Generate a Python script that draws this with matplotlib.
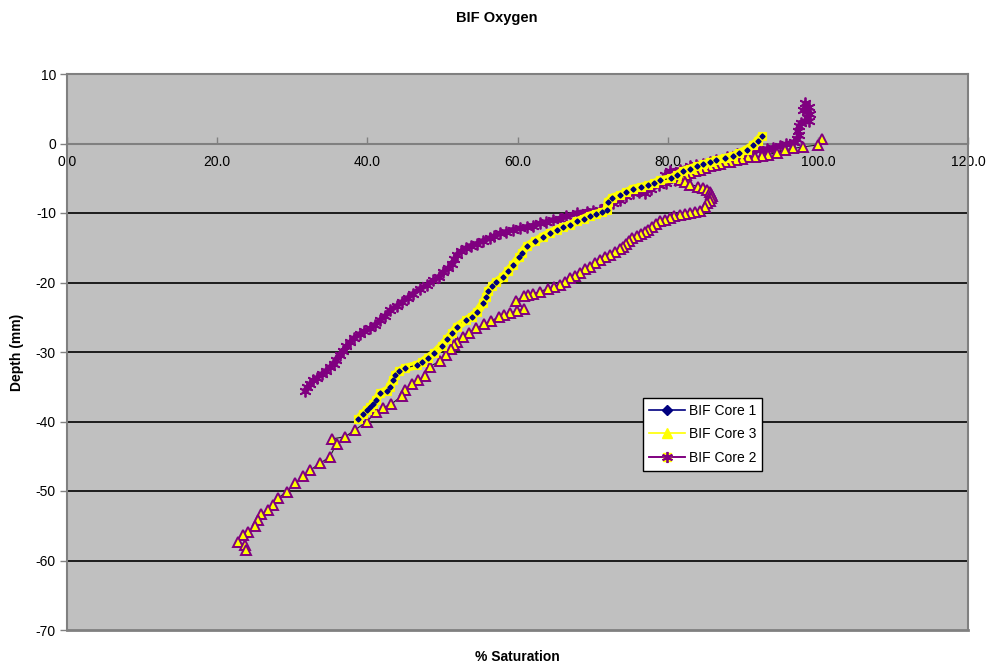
import matplotlib
matplotlib.use("Agg")
import matplotlib.pyplot as plt
from matplotlib.lines import Line2D
from matplotlib.legend_handler import HandlerTuple

plt.rcParams['font.family'] = ['Liberation Sans', 'DejaVu Sans']

# ---------------- data ----------------
core1_sat = [92.5, 92.0, 91.4, 90.5, 89.5, 88.7, 87.6, 86.5, 85.6, 84.7, 83.9, 83.0, 82.1, 81.3,
             80.5, 79.0, 78.2, 77.4, 76.4, 75.4, 74.5, 73.7, 72.6, 72.0, 71.9, 71.2, 70.5, 69.6,
             68.8, 67.9, 67.0, 66.1, 65.2, 64.3, 63.4, 62.3, 61.2, 60.6, 60.2, 59.4, 58.7, 58.1,
             57.2, 56.6, 56.1, 55.8, 55.4, 54.6, 53.9, 53.2, 51.9, 51.3, 50.6, 49.9, 48.9, 48.1,
             47.3, 46.6, 45.0, 44.2, 43.7, 43.4, 43.0, 42.6, 41.7, 41.2, 40.7, 40.4, 39.9, 39.4, 38.8]
core1_depth = [1.1, 0.4, -0.2, -0.9, -1.4, -1.8, -2.1, -2.4, -2.7, -3.0, -3.3, -3.6, -3.9, -4.5,
               -5.0, -5.3, -5.7, -6.0, -6.3, -6.5, -7.0, -7.4, -7.8, -8.4, -9.6, -9.9, -10.1, -10.4,
               -10.8, -11.2, -11.7, -12.0, -12.4, -12.9, -13.4, -14.1, -14.8, -15.7, -16.4, -17.5, -18.4, -19.2,
               -19.9, -20.5, -21.2, -22.1, -23.0, -24.3, -24.9, -25.4, -26.4, -27.3, -28.2, -29.1, -30.2, -30.8,
               -31.4, -31.9, -32.3, -32.8, -33.3, -34.0, -35.0, -35.6, -35.9, -36.9, -37.5, -37.9, -38.4, -38.9, -39.7]

core3_sat = [100.5, 100.0, 98.0, 96.7, 95.6, 94.5, 93.4, 92.5, 91.6, 90.7, 89.9, 89.1, 88.3, 87.6,
             87.0, 86.3, 85.6, 85.0, 84.3, 83.6, 83.0, 82.4, 81.9, 81.6, 82.3, 83.0, 84.1, 84.7,
             85.2, 85.6, 85.8, 85.9, 85.8, 85.6, 85.3, 85.0, 84.3, 83.6, 83.0, 82.3, 81.6, 80.9,
             80.3, 79.6, 79.0, 78.4, 77.9, 77.4, 77.0, 76.4, 75.9, 75.2, 74.8, 74.5, 74.1, 73.7,
             73.0, 72.3, 71.6, 71.0, 70.3, 69.7, 69.0, 68.3, 67.6, 67.0, 66.3, 65.7, 64.8, 64.0,
             63.0, 62.1, 61.4, 60.8, 59.8, 60.8, 59.9, 59.0, 58.2, 57.5, 56.5, 55.5, 54.5, 53.5,
             52.7, 52.0, 51.6, 51.2, 50.5, 49.7, 48.3, 47.7, 46.8, 45.9, 45.0, 44.6, 43.2, 42.1,
             41.2, 39.9, 38.4, 37.0, 35.3, 35.9, 35.0, 33.7, 32.4, 31.4, 30.4, 29.3, 28.1, 27.5,
             26.8, 25.9, 25.4, 25.0, 24.1, 23.5, 22.8, 23.7, 23.9]
core3_depth = [0.7, -0.2, -0.5, -0.7, -0.9, -1.3, -1.6, -1.8, -1.9, -2.0, -2.2, -2.4, -2.6, -2.7,
               -2.9, -3.1, -3.3, -3.5, -3.8, -4.0, -4.3, -4.5, -4.8, -5.3, -5.6, -5.9, -6.2, -6.4,
               -6.7, -7.0, -7.3, -7.6, -7.9, -8.3, -8.6, -9.2, -9.7, -9.9, -10.0, -10.2, -10.3, -10.5,
               -10.7, -11.0, -11.2, -11.6, -12.0, -12.4, -12.7, -13.0, -13.3, -13.6, -14.1, -14.5, -14.9, -15.2,
               -15.6, -16.0, -16.4, -16.8, -17.2, -17.7, -18.1, -18.6, -19.0, -19.4, -19.9, -20.3, -20.6, -20.9,
               -21.3, -21.6, -21.8, -22.0, -22.6, -23.8, -24.1, -24.4, -24.7, -25.0, -25.5, -26.0, -26.6, -27.2,
               -27.8, -28.5, -29.0, -29.5, -30.5, -31.3, -32.1, -33.4, -34.0, -34.6, -35.5, -36.3, -37.5, -38.0,
               -38.7, -40.0, -41.2, -42.2, -42.5, -43.2, -45.1, -46.0, -47.0, -47.9, -48.9, -50.1, -51.0, -52.0,
               -52.7, -53.3, -54.2, -55.1, -55.9, -56.4, -57.3, -57.8, -58.5]

core2_sat = [98.3, 98.8, 98.0, 99.0, 98.5, 98.8, 97.8, 97.5, 97.3, 97.5, 97.2, 96.8, 95.8, 95.0,
             94.0, 93.2, 92.3, 91.0, 90.1, 89.2, 87.9, 86.5, 85.6, 84.7, 83.8, 83.0, 81.6, 80.3,
             79.6, 80.2, 81.0, 79.8, 78.8, 77.8, 77.0, 76.2, 75.4, 74.5, 73.7, 72.7, 71.8, 71.0,
             70.1, 69.2, 67.9, 66.5, 65.6, 64.7, 63.8, 63.0, 62.1, 61.2, 60.3, 59.4, 58.5, 57.7,
             56.9, 56.3, 55.4, 54.6, 53.8, 53.2, 52.5, 51.9, 51.6, 51.3, 50.8, 50.1, 49.5, 48.8,
             47.9, 47.0, 46.1, 45.4, 44.6, 43.9, 43.0, 42.4, 41.7, 41.0, 40.4, 39.6, 39.0, 38.2,
             37.7, 37.2, 36.8, 36.3, 35.8, 35.5, 35.0, 34.5, 33.9, 33.3, 32.8, 32.4, 32.0, 31.7]
core2_depth = [5.8, 5.3, 4.8, 4.3, 3.8, 3.2, 3.0, 2.5, 1.8, 1.2, 0.6, 0.2, -0.1, -0.3,
               -0.6, -0.8, -0.9, -1.2, -1.3, -1.5, -1.9, -2.4, -2.6, -2.9, -3.1, -3.3, -3.8, -4.0,
               -4.6, -5.0, -5.2, -5.7, -6.0, -6.5, -7.1, -7.0, -7.1, -7.6, -8.1, -8.6, -9.1, -9.6,
               -9.7, -9.8, -10.0, -10.5, -10.8, -11.0, -11.3, -11.5, -11.8, -12.0, -12.2, -12.4, -12.7, -12.9,
               -13.3, -13.6, -14.0, -14.4, -14.7, -15.0, -15.5, -16.0, -16.6, -17.3, -17.9, -18.5, -19.2, -19.7,
               -20.4, -20.9, -21.6, -22.2, -22.8, -23.4, -24.0, -24.8, -25.4, -26.1, -26.6, -27.0, -27.4, -28.0,
               -28.6, -29.2, -29.8, -30.4, -31.1, -31.7, -32.2, -32.7, -33.2, -33.7, -34.1, -34.6, -35.1, -35.6]

x_ticks = [0, 20, 40, 60, 80, 100, 120]
x_tick_labels = ["0.0", "20.0", "40.0", "60.0", "80.0", "100.0", "120.0"]
y_ticks = [10, 0, -10, -20, -30, -40, -50, -60, -70]
series_names = ["BIF Core 1", "BIF Core 3", "BIF Core 2"]

# ---------------- figure ----------------
NAVY = '#000080'
YELLOW = '#FFFF00'
PURPLE = '#800080'
GRAY = '#808080'

fig = plt.figure(figsize=(9.94, 6.71), dpi=100)
ax = fig.add_axes([67/994, 1 - 630/671, (968-67)/994, (630-74)/671])
ax.set_facecolor('#C0C0C0')
ax.set_xlim(0, 120)
ax.set_ylim(-70, 10)

for gy in [-10, -20, -30, -40, -50, -60]:
    ax.axhline(gy, color='black', lw=1.2, zorder=1)
ax.axhline(-70, color=GRAY, lw=2, zorder=1, clip_on=False)

# Core 2 (purple asterisks, dense band)
ax.plot(core2_sat, core2_depth, color=PURPLE, lw=4, solid_capstyle='round', zorder=3)
ax.plot(core2_sat, core2_depth, color=PURPLE, lw=0.8, marker=(6, 2, 0), markersize=8.5,
        markeredgecolor=PURPLE, markeredgewidth=1.3, zorder=3)
# Core 3 (yellow triangles, purple edge)
ax.plot(core3_sat, core3_depth, color='#202020', lw=0.8, marker='^', markersize=6.5,
        markerfacecolor=YELLOW, markeredgecolor=PURPLE, markeredgewidth=1.4, zorder=4)
# Core 1 (navy diamonds on a yellow band)
ax.plot(core1_sat, core1_depth, color=YELLOW, lw=6, solid_capstyle='butt', zorder=5)
ax.plot(core1_sat, core1_depth, color='#202020', lw=0.8, marker='s', markersize=5.5,
        markerfacecolor=YELLOW, markeredgecolor=YELLOW, markeredgewidth=0.8, zorder=5)
ax.plot(core1_sat, core1_depth, linestyle='none', marker='D', markersize=2.6,
        markerfacecolor=NAVY, markeredgecolor=NAVY, zorder=6)

# axes styling
for s in ['top', 'right', 'left']:
    ax.spines[s].set_color(GRAY)
    ax.spines[s].set_linewidth(1.5)
ax.spines['bottom'].set_position(('data', 0))
ax.spines['bottom'].set_color(GRAY)
ax.spines['bottom'].set_linewidth(1.5)
ax.spines['bottom'].set_zorder(2)

ax.set_xticks(x_ticks)
ax.set_xticklabels(x_tick_labels)
ax.set_yticks(y_ticks)
ax.set_yticklabels([str(v) for v in y_ticks])
ax.tick_params(axis='x', direction='in', length=5, color=GRAY, width=1, labelsize=10, pad=8)
ax.tick_params(axis='y', direction='out', length=5, color=GRAY, width=1, labelsize=10, pad=3)

fig.text(0.5, 1 - 18/671, "BIF Oxygen", ha='center', va='center', fontsize=10.5, fontweight='bold')
fig.text(517/994, 1 - 657/671, "% Saturation", ha='center', va='center', fontsize=10, fontweight='bold')
fig.text(17/994, 1 - 352/671, "Depth (mm)", ha='center', va='center', rotation=90,
         fontsize=10, fontweight='bold')

# legend (proxy handles)
h1 = Line2D([], [], color=NAVY, lw=1.2, marker='D', markersize=5, markerfacecolor=NAVY, markeredgecolor=NAVY)
h3 = Line2D([], [], color=YELLOW, lw=1.2, marker='^', markersize=7, markerfacecolor=YELLOW, markeredgecolor=YELLOW)
h2a = Line2D([], [], color=PURPLE, lw=1.2, marker='s', markersize=6, markerfacecolor=YELLOW, markeredgecolor=YELLOW)
h2b = Line2D([], [], color=PURPLE, lw=1.2, marker=(6, 2, 0), markersize=8, markeredgecolor=PURPLE, markeredgewidth=1.3)
leg = ax.legend([h1, h3, (h2a, h2b)], series_names, loc='upper left',
                bbox_to_anchor=((643-67)/901, (630-398)/556), fontsize=10,
                frameon=True, fancybox=False, edgecolor='black', facecolor='white', framealpha=1,
                handlelength=2.6, handletextpad=0.3, labelspacing=0.7, borderpad=0.4,
                borderaxespad=0, handler_map={tuple: HandlerTuple(ndivide=1, pad=0)})
leg.get_frame().set_linewidth(1)
leg.set_zorder(10)

fig.savefig("out.png", dpi=100)
